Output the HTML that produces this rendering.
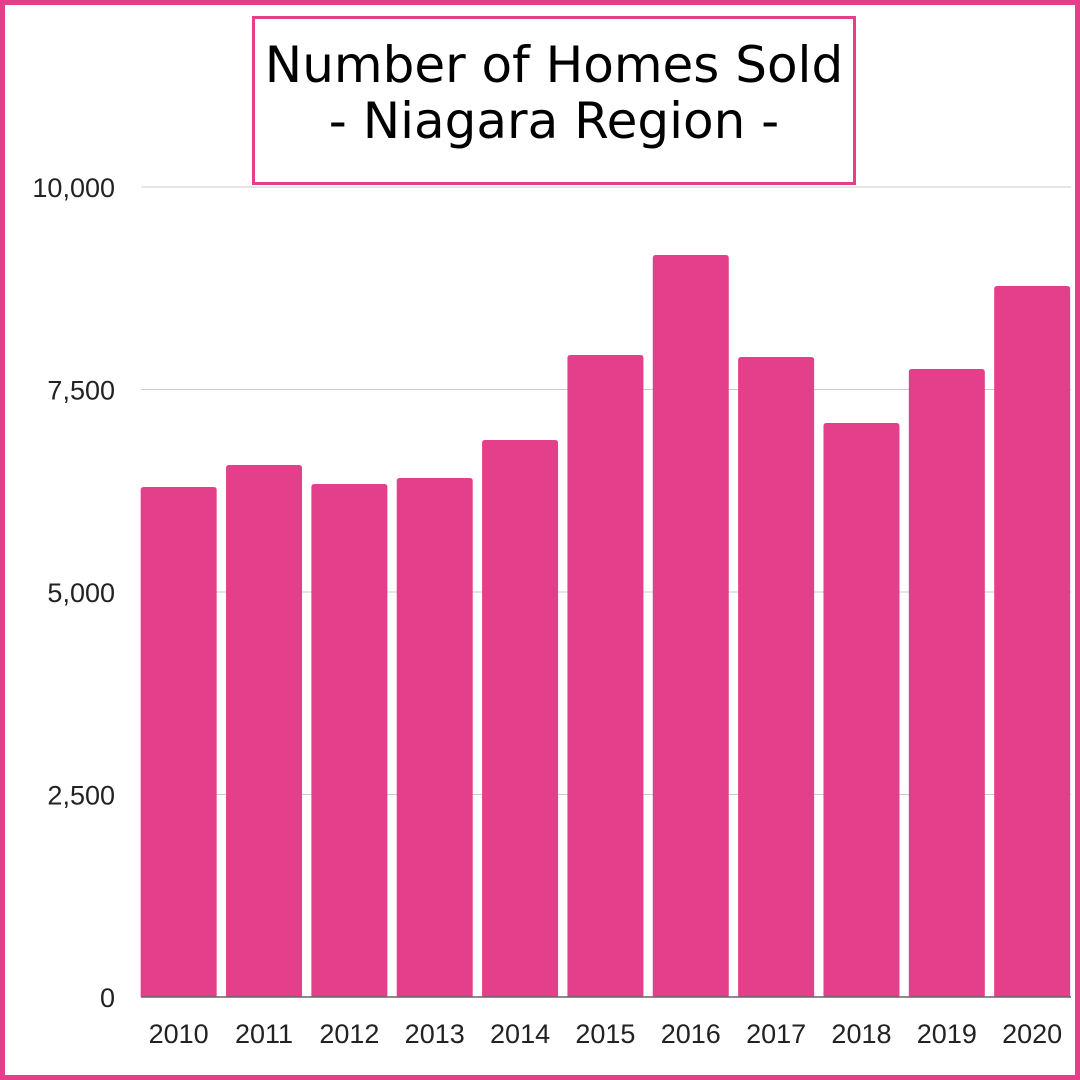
<!DOCTYPE html>
<html><head><meta charset="utf-8"><style>
html,body{margin:0;padding:0;background:#fff;}
#wrap{position:relative;width:1080px;height:1080px;box-sizing:border-box;border:5px solid #e43f8a;overflow:hidden;}
#title{position:absolute;left:247px;top:11px;width:598px;height:163px;border:3px solid #e43f8a;font-family:"DejaVu Sans","Liberation Sans",sans-serif;font-size:50px;text-align:center;color:#000;line-height:56px;box-sizing:content-box;}
#title div{margin-top:18px;}
svg{position:absolute;left:0;top:0;}
</style></head><body>
<div id="wrap">
<div id="title"><div>Number of Homes Sold<br>- Niagara Region -</div></div>
<svg id="chart" width="1080" height="1080"></svg>
</div>
<script>
const categories=["2010","2011","2012","2013","2014","2015","2016","2017","2018","2019","2020"];
const values=[6296,6568,6333,6407,6877,7926,9160,7901,7086,7753,8778];
const ticks=[0,2500,5000,7500,10000];
const tickLabels=["0","2,500","5,000","7,500","10,000"];
const NS="http://www.w3.org/2000/svg";
const svg=document.getElementById("chart");
const y0=992,yTop=182,yMax=10000,xL=131,band=85.35,bw=76;
const y=v=>y0-(v/yMax)*(y0-yTop);
const x=i=>xL+i*band+(band-bw)/2;
function mk(t,a){const e=document.createElementNS(NS,t);for(const k in a)e.setAttribute(k,a[k]);svg.appendChild(e);return e;}
ticks.forEach((t,i)=>{
 if(t>0){const l=mk("line",{x1:136,x2:1066,y1:y(t),y2:y(t),stroke:"#cccccc","stroke-width":1});
 
 }
 const tx=mk("text",{x:110,y:y(t)+10,"text-anchor":"end","font-family":"Liberation Sans, sans-serif","font-size":27,fill:"#222"});
 tx.textContent=tickLabels[i];
 
 
});
values.forEach((v,i)=>{
 const r=mk("path",{d:`M${x(i)},${y0}V${y(v)+3}q0,-3 3,-3h${bw-6}q3,0 3,3V${y0}Z`,fill:"#e43f8a"});
 
 
 const tx=mk("text",{x:x(i)+bw/2,y:1038,"text-anchor":"middle","font-family":"Liberation Sans, sans-serif","font-size":27,fill:"#222"});
 tx.textContent=categories[i];
 
 
});
const ax=mk("line",{x1:136,x2:1066,y1:y0,y2:y0,stroke:"#666","stroke-width":1.5});


</script>
</body></html>
